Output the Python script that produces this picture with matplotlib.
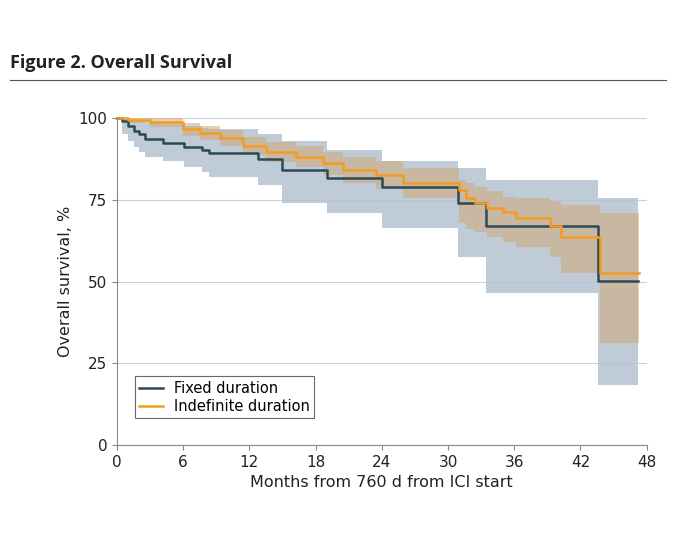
import matplotlib.pyplot as plt

# Fixed duration: step times (months), survival (%), CI
fixed_t = [0, 0.5, 1.0, 1.5, 2.0, 2.5, 4.2, 6.1, 7.7, 8.3, 12.8, 15.0, 19.0, 24.0, 30.9, 33.4, 43.6, 47.2]
fixed_s = [100, 99, 97.5, 96, 95, 93.5, 92.4, 91.2, 90.2, 89.2, 87.4, 84.0, 81.6, 78.9, 74.0, 67.0, 50.2, 50.2]
fixed_lo = [100, 95, 93, 91, 89.5, 88, 87, 85, 83.5, 82, 79.5, 74, 71, 66.3, 57.6, 46.5, 18.3, 18.3]
fixed_hi = [100, 100, 99.5, 99, 99, 98.5, 98.2, 97.5, 97, 96.5, 95, 93, 90.2, 87, 84.6, 81, 75.6, 75.6]

# Indefinite duration
indef_t = [0, 1.0, 3.0, 6.0, 7.5, 9.3, 11.4, 13.5, 16.2, 18.7, 20.5, 23.5, 25.9, 31.0, 31.6, 32.4, 33.5, 35.0, 36.2, 39.2, 40.2, 43.8, 47.3]
indef_s = [100, 99.5, 98.9, 96.6, 95.4, 93.9, 91.4, 89.7, 88.2, 86.1, 84.1, 82.6, 80.2, 78.0, 75.5, 74.0, 72.4, 71.3, 69.3, 67.0, 63.6, 52.7, 52.7]
indef_lo = [100, 98.5, 97.3, 94.6, 93.2, 91.5, 88.7, 86.7, 84.9, 82.5, 80.2, 78.4, 75.5, 67.9, 66, 65, 63.5, 62.2, 60.5, 57.5, 52.6, 31.2, 31.2]
indef_hi = [100, 100, 100, 98.5, 97.5, 96.2, 94.1, 92.7, 91.5, 89.7, 88, 86.8, 84.6, 81, 80, 79, 77.8, 76, 75.5, 74.5, 73.5, 71, 71]

fig = plt.figure(figsize=(6.8, 5.44), dpi=100)
fig.text(0.015, 0.875, "Figure 2. Overall Survival", fontsize=13, fontweight="bold",
         family="Open Sans", color="#222222")
fig.add_artist(plt.Line2D([0.015, 0.98], [0.853, 0.853], color="#555555", lw=0.8))

ax = fig.add_axes([0.172, 0.182, 0.779, 0.601])
ax.fill_between(fixed_t, fixed_lo, fixed_hi, step="post", color="#b4c4d1", alpha=0.85, lw=0)
ax.fill_between(indef_t, indef_lo, indef_hi, step="post", color="#d0a878", alpha=0.55, lw=0)
ax.step(fixed_t, fixed_s, where="post", color="#2b4a58", lw=1.8, label="Fixed duration", clip_on=False)
ax.step(indef_t, indef_s, where="post", color="#f39c1f", lw=1.8, label="Indefinite duration", clip_on=False)

ax.set_xlim(0, 48)
ax.set_ylim(0, 100)
ax.set_xticks(range(0, 49, 6))
ax.set_yticks([0, 25, 50, 75, 100])
ax.yaxis.grid(True, color="#d0d0d0", lw=0.8)
ax.set_axisbelow(True)
for s in ["top", "right"]:
    ax.spines[s].set_visible(False)
for s in ["left", "bottom"]:
    ax.spines[s].set_color("#888888")
ax.tick_params(colors="#888888", labelcolor="#222222", labelsize=11)
ax.set_xlabel("Months from 760 d from ICI start", fontsize=11.5, color="#222222")
ax.set_ylabel("Overall survival, %", fontsize=11.5, color="#222222")
leg = ax.legend(loc="lower left", bbox_to_anchor=(0.02, 0.06), fontsize=10.5,
                frameon=True, fancybox=False, edgecolor="#444444", handlelength=1.6,
                borderpad=0.3, labelspacing=0.2)
leg.get_frame().set_linewidth(0.8)

fig.savefig("out.png")
